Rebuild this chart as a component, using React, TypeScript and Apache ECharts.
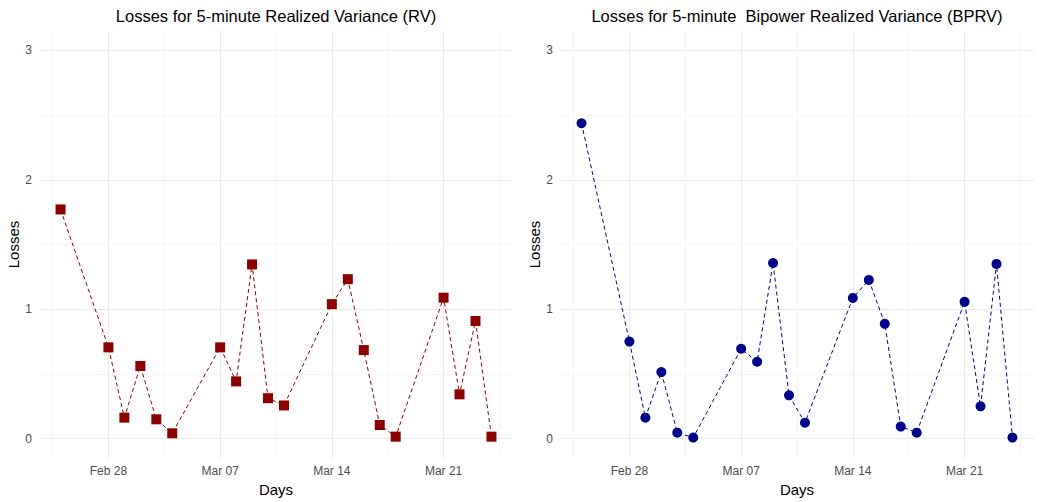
import React, { useEffect, useRef } from "react";
import * as echarts from "echarts";

const dates = [
  "2022-02-25", "2022-02-28", "2022-03-01", "2022-03-02", "2022-03-03", "2022-03-04",
  "2022-03-07", "2022-03-08", "2022-03-09", "2022-03-10", "2022-03-11",
  "2022-03-14", "2022-03-15", "2022-03-16", "2022-03-17", "2022-03-18",
  "2022-03-21", "2022-03-22", "2022-03-23", "2022-03-24",
];
const rvLoss = [1.771, 0.705, 0.162, 0.561, 0.149, 0.041, 0.705, 0.442, 1.346, 0.312, 0.256, 1.039, 1.232, 0.684, 0.105, 0.015, 1.089, 0.342, 0.909, 0.015];
const bprvLoss = [2.437, 0.75, 0.162, 0.514, 0.046, 0.008, 0.694, 0.594, 1.357, 0.334, 0.123, 1.087, 1.226, 0.887, 0.093, 0.046, 1.057, 0.249, 1.35, 0.008];
const xTickDates = ["2022-02-28", "2022-03-07", "2022-03-14", "2022-03-21"];
const xTickLabels = ["Feb 28", "Mar 07", "Mar 14", "Mar 21"];
const yTicks = [0, 1, 2, 3];
const yMinorTicks = [0.5, 1.5, 2.5];
const yLimits = [0, 3];
const titles = [
  "Losses for 5-minute Realized Variance (RV)",
  "Losses for 5-minute  Bipower Realized Variance (BPRV)",
];

const DAY = 86400000;
const origin = Date.parse(xTickDates[0]);
const toDay = (d: string) => (Date.parse(d) - origin) / DAY;

export default function App() {
  const ref = useRef<HTMLDivElement>(null);
  useEffect(() => {
    if (!ref.current) return;
    const chart = echarts.init(ref.current, null, { renderer: "svg" });
    const xs = dates.map(toDay);
    const xMajor = xTickDates.map(toDay);
    const step = xMajor[1] - xMajor[0];
    const xMinor = [xMajor[0] - step / 2, ...xMajor.map((v) => v + step / 2)];
    const span = xs[xs.length - 1] - xs[0];
    const xMin = xs[0] - 0.05 * span;
    const xMax = xs[xs.length - 1] + 0.05 * span;
    const ySpan = yLimits[1] - yLimits[0];
    const yMin = yLimits[0] - 0.05 * ySpan;
    const yMax = yLimits[1] + 0.05 * ySpan;

    const font = "Liberation Sans, Arial, sans-serif";
    const grids = [
      { left: 39, top: 31, width: 474, height: 427, outerBoundsMode: "none", containLabel: false },
      { left: 560, top: 31, width: 474, height: 427, outerBoundsMode: "none", containLabel: false },
    ];
    const gridLines = () => ({
      silent: true,
      symbol: "none",
      z: 1,
      label: { show: false },
      emphasis: { disabled: true },
      data: [
        ...xMajor.map((v) => ({ xAxis: v, lineStyle: { color: "#EBEBEB", width: 1, type: "solid" } })),
        ...xMinor.map((v) => ({ xAxis: v, lineStyle: { color: "#EBEBEB", width: 0.5, type: "solid" } })),
        ...yTicks.map((v) => ({ yAxis: v, lineStyle: { color: "#EBEBEB", width: 1, type: "solid" } })),
        ...yMinorTicks.map((v) => ({ yAxis: v, lineStyle: { color: "#EBEBEB", width: 0.5, type: "solid" } })),
      ],
    });

    const xAxisBase = (gi: number) => ({
      type: "value",
      gridIndex: gi,
      min: xMin,
      max: xMax,
      name: "Days",
      nameLocation: "middle",
      nameGap: 22,
      nameTextStyle: { color: "#000", fontSize: 15, fontFamily: font },
      axisLine: { show: false },
      axisTick: { show: false },
      splitLine: { show: false },
      axisLabel: {
        customValues: xMajor,
        color: "#4D4D4D",
        fontSize: 12,
        fontFamily: font,
        margin: 7,
        formatter: (v: number) => {
          const i = xMajor.findIndex((m) => Math.abs(m - v) < 1e-6);
          return i >= 0 ? xTickLabels[i] : "";
        },
      },
    });
    const yAxisBase = (gi: number) => ({
      type: "value",
      gridIndex: gi,
      min: yMin,
      max: yMax,
      name: "Losses",
      nameLocation: "middle",
      nameGap: 18,
      nameRotate: 90,
      nameTextStyle: { color: "#000", fontSize: 15, fontFamily: font },
      axisLine: { show: false },
      axisTick: { show: false },
      splitLine: { show: false },
      axisLabel: {
        customValues: yTicks,
        color: "#4D4D4D",
        fontSize: 12,
        fontFamily: font,
        margin: 7,
        formatter: (v: number) => String(Math.round(v)),
      },
    });

    chart.setOption({
      animation: false,
      backgroundColor: "#FFFFFF",
      graphic: [
        {
          type: "text",
          x: 39 + 237,
          y: 16,
          style: {
            text: titles[0],
            fontSize: 16.5,
            fontFamily: font,
            fill: "#000",
            align: "center",
            verticalAlign: "middle",
          },
        },
        {
          type: "text",
          x: 560 + 237,
          y: 16,
          style: {
            text: titles[1],
            fontSize: 16.5,
            fontFamily: font,
            fill: "#000",
            align: "center",
            verticalAlign: "middle",
          },
        },
      ],
      grid: grids,
      xAxis: [xAxisBase(0), xAxisBase(1)],
      yAxis: [yAxisBase(0), yAxisBase(1)],
      series: [
        {
          type: "line",
          xAxisIndex: 0,
          yAxisIndex: 0,
          z: 3,
          data: xs.map((x, i) => [x, rvLoss[i]]),
          symbol: "rect",
          symbolSize: 10,
          itemStyle: { color: "#8B0000" },
          lineStyle: { color: "#8B0000", width: 1, type: [4, 3] },
          markLine: gridLines(),
        },
        {
          type: "line",
          xAxisIndex: 1,
          yAxisIndex: 1,
          z: 3,
          data: xs.map((x, i) => [x, bprvLoss[i]]),
          symbol: "circle",
          symbolSize: 10,
          itemStyle: { color: "#00008B" },
          lineStyle: { color: "#00008B", width: 1, type: [4, 3] },
          markLine: gridLines(),
        },
      ],
    });
    return () => chart.dispose();
  }, []);
  return <div ref={ref} style={{ width: 1042, height: 502, position: "absolute", left: 0, top: 0 }} />;
}
